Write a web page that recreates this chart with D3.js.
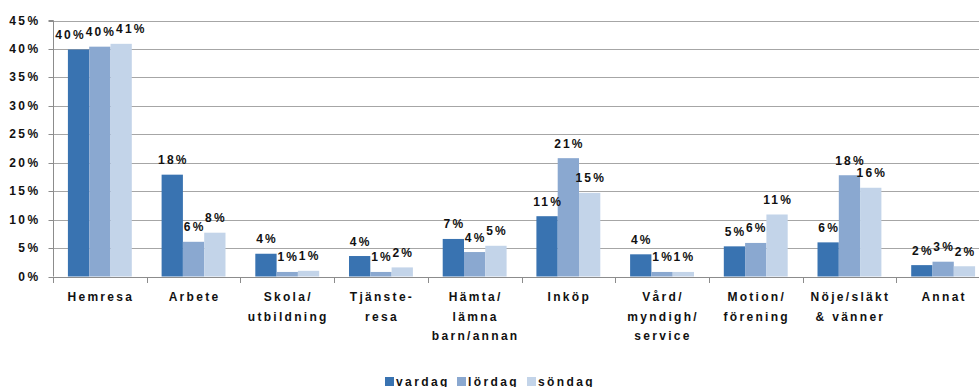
<!DOCTYPE html>
<html>
<head>
<meta charset="utf-8">
<script src="https://cdn.jsdelivr.net/npm/d3@7"></script>
<style>
  html, body { margin: 0; padding: 0; background: #fff; }
  svg { display: block; }
  text { font-family: "Liberation Sans", Arial, sans-serif; font-weight: bold; fill: #111; }
</style>
</head>
<body>
<svg id="chart" width="979" height="387"></svg>
<script>
// Ärendefördelning per veckodag (andel resor)
const categories = [
  "Hemresa", "Arbete", "Skola/\nutbildning", "Tjänste-\nresa", "Hämta/\nlämna\nbarn/annan",
  "Inköp", "Vård/\nmyndigh/\nservice", "Motion/\nförening", "Nöje/släkt\n& vänner", "Annat"
];
const seriesNames = ["vardag", "lördag", "söndag"];
const vardag = [0.399, 0.179, 0.040, 0.036, 0.066, 0.106, 0.039, 0.053, 0.060, 0.020];
const lordag = [0.404, 0.061, 0.008, 0.008, 0.043, 0.208, 0.008, 0.059, 0.178, 0.026];
const sondag = [0.409, 0.077, 0.010, 0.016, 0.054, 0.147, 0.008, 0.109, 0.156, 0.018];
const yTicks = [0, 0.05, 0.10, 0.15, 0.20, 0.25, 0.30, 0.35, 0.40, 0.45];
const colors = ["#3973B1", "#8AA8D0", "#C3D4E9"];

const values = [vardag, lordag, sondag];
const svg = d3.select("#chart");
const width = 979;
const plot = { left: 53, top: 20.5, bottom: 276.5, catWidth: 93.7 };
const labelSpacing = 2.2;

const x0 = d3.scaleBand()
  .domain(categories)
  .range([plot.left, plot.left + plot.catWidth * categories.length])
  .paddingInner(0).paddingOuter(0);
const x1 = d3.scaleBand()
  .domain(seriesNames)
  .range([0, x0.bandwidth()])
  .paddingInner(0).paddingOuter(0.7);
const y = d3.scaleLinear().domain([0, 0.45]).range([plot.bottom, plot.top]);
const pct = d3.format(".0%");
const color = d3.scaleOrdinal().domain(seriesNames).range(colors);

// horizontal gridlines
svg.append("g")
  .selectAll("line")
  .data(yTicks.slice(1))
  .join("line")
  .attr("x1", plot.left).attr("x2", width)
  .attr("y1", d => Math.round(y(d)) + 0.5).attr("y2", d => Math.round(y(d)) + 0.5)
  .attr("stroke", "#A6A6A6").attr("stroke-width", 1);

// bars
const groups = svg.append("g")
  .selectAll("g")
  .data(categories)
  .join("g")
  .attr("transform", d => `translate(${x0(d)},0)`);

groups.selectAll("rect")
  .data((d, i) => seriesNames.map((s, k) => ({ s, v: values[k][i] })))
  .join("rect")
  .attr("x", d => x1(d.s))
  .attr("width", x1.bandwidth())
  .attr("y", d => y(d.v))
  .attr("height", d => y(0) - y(d.v))
  .attr("fill", d => color(d.s));

// value labels, centred over each bar
groups.each(function (cat, i) {
  const g = d3.select(this);
  const items = seriesNames.map((s, k) => ({ s, v: values[k][i] }));
  const texts = g.selectAll("text.val")
    .data(items)
    .join("text")
    .attr("class", "val")
    .attr("text-anchor", "middle")
    .style("font-size", "12px")
    .style("letter-spacing", labelSpacing + "px")
    .attr("y", d => y(d.v) - 10.5)
    .text(d => pct(d.v));
  // width of the inked text and centre position
  texts.each(function (d) {
    d.w = this.getComputedTextLength() - labelSpacing;
    d.cx = x1(d.s) + x1.bandwidth() / 2;
  });
  // push neighbouring labels apart where they sit on the same line and collide
  const collide = (a, b) => Math.abs(y(a.v) - y(b.v)) < 12 &&
    (b.cx - b.w / 2) - (a.cx + a.w / 2) < -2;
  const gap = 2;
  if (collide(items[0], items[1])) items[0].cx = items[1].cx - (items[0].w + items[1].w) / 2 - gap;
  if (collide(items[1], items[2])) items[2].cx = items[1].cx + (items[1].w + items[2].w) / 2 + gap;
  texts.attr("x", d => d.cx + labelSpacing / 2);
});

// y axis
const yAxis = svg.append("g")
  .attr("transform", `translate(${plot.left + 0.5},0)`)
  .call(d3.axisLeft(y).tickValues(yTicks).tickFormat(pct).tickSize(5).tickPadding(8));
yAxis.select(".domain").attr("stroke", "#8C8C8C").attr("d", `M-5,${plot.top}H0V${plot.bottom}`);
yAxis.selectAll(".tick line").attr("stroke", "#8C8C8C");
yAxis.selectAll(".tick text")
  .style("font-size", "12px")
  .style("letter-spacing", "2.4px")
  .attr("fill", "#111");
yAxis.selectAll(".tick").attr("transform", d => `translate(0,${Math.round(y(d)) + 0.5})`);

// x axis
const xEnd = plot.left + plot.catWidth * categories.length;
const xAxis = svg.append("g");
xAxis.append("line")
  .attr("x1", plot.left).attr("x2", xEnd)
  .attr("y1", Math.round(y(0)) + 0.5).attr("y2", Math.round(y(0)) + 0.5)
  .attr("stroke", "#8C8C8C");
xAxis.selectAll("line.tk")
  .data(categories)
  .join("line")
  .attr("class", "tk")
  .attr("x1", d => Math.round(x0(d)) + 0.5).attr("x2", d => Math.round(x0(d)) + 0.5)
  .attr("y1", Math.round(y(0))).attr("y2", Math.round(y(0)) + 6)
  .attr("stroke", "#8C8C8C");

const xl = xAxis.selectAll("text.cat")
  .data(categories)
  .join("text")
  .attr("class", "cat")
  .attr("text-anchor", "middle")
  .style("font-size", "12px")
  .style("letter-spacing", "2.3px")
  .attr("transform", d => `translate(${x0(d) + x0.bandwidth() / 2 + 1},301)`);
xl.selectAll("tspan")
  .data(d => d.split("\n"))
  .join("tspan")
  .attr("x", 0)
  .attr("dy", (d, i) => i === 0 ? 0 : 19.5)
  .text(d => d);

// legend
const legend = svg.append("g").attr("transform", "translate(385,0)");
const legendX = [0, 72, 142];
seriesNames.forEach((s, i) => {
  const g = legend.append("g").attr("transform", `translate(${legendX[i]},0)`);
  g.append("rect").attr("x", 0).attr("y", 377).attr("width", 9).attr("height", 9).attr("fill", color(s));
  g.append("text").attr("x", 11).attr("y", 385.5)
    .style("font-size", "12px").style("letter-spacing", "2.4px").text(s);
});
</script>
</body>
</html>
